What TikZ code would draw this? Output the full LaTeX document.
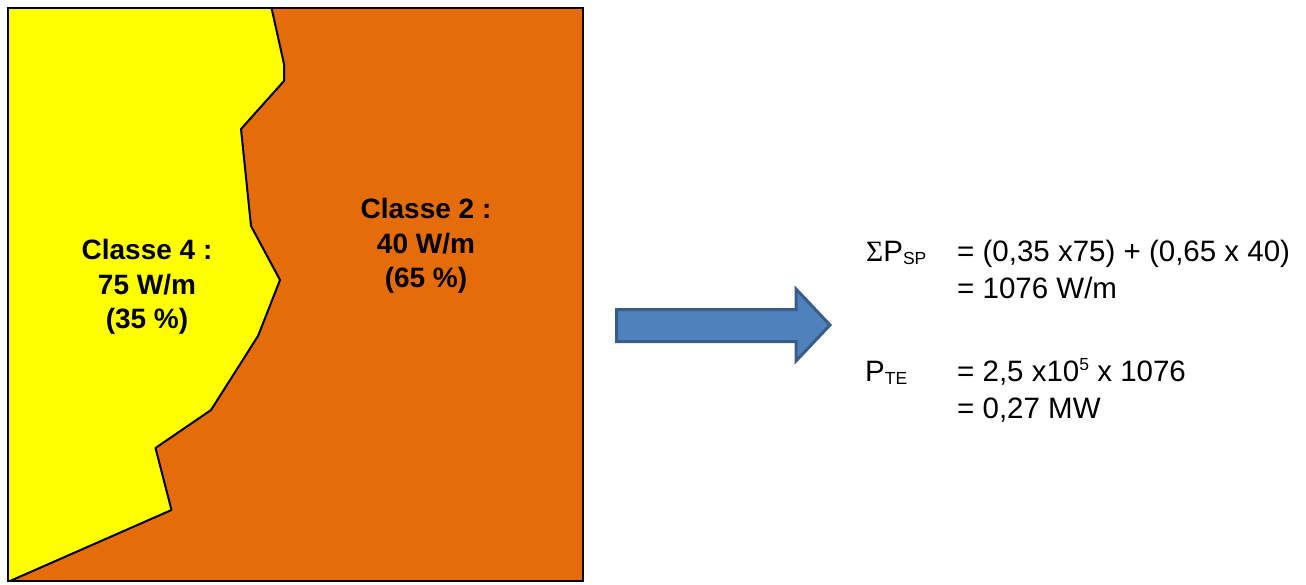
\documentclass[tikz,border=0pt]{standalone}
\usepackage{fontspec}
\setmainfont{Liberation Sans}
\newfontfamily\sigmafont{Liberation Serif}
\usetikzlibrary{calc}

\definecolor{zoneyellow}{HTML}{FFFF00}
\definecolor{zoneorange}{HTML}{E46C0A}
\definecolor{arrowfill}{HTML}{4F81BD}
\definecolor{arrowline}{HTML}{385D8A}

\newcommand{\subsm}[1]{\raisebox{-3pt}{\fontsize{17.5}{17.5}\selectfont #1}}
\newcommand{\supsm}[1]{\raisebox{11pt}{\fontsize{17.5}{17.5}\selectfont #1}}

\begin{document}
\begin{tikzpicture}[x=1pt,y=-1pt,
    zonelabel/.style={align=center,font=\fontsize{28}{34.5}\selectfont\bfseries},
    eqtext/.style={anchor=base west,inner sep=0pt,font=\fontsize{29.5}{35}\selectfont}]
\useasboundingbox (0,0) rectangle (1306,584);

% the two zones
\fill[zoneorange] (8,8) rectangle (583,581);
\fill[zoneyellow] (8,8) -- (271.5,8) -- (284,64) -- (284,81) -- (241,129) -- (251,226)
    -- (280,280) -- (258,336) -- (211,410) -- (155.5,448) -- (171.5,510) -- (8,581) -- cycle;
\draw[line width=2pt,line join=round] (271.5,8) -- (284,64) -- (284,81) -- (241,129) -- (251,226)
    -- (280,280) -- (258,336) -- (211,410) -- (155.5,448) -- (171.5,510) -- (10,581);
\draw[line width=2pt] (8,8) rectangle (583,581);

\node[zonelabel] (class4) at (147,287) {Classe 4 :\\75 W/m\\(35 \%)};
\node[zonelabel] (class2) at (426,246) {Classe 2 :\\40 W/m\\(65 \%)};

% arrow
\draw[line width=3pt,arrowline,fill=arrowfill,line join=miter]
    (616.5,309.5) -- (796,309.5) -- (796,289) -- (830,325) -- (796,361) -- (796,341.5)
    -- (616.5,341.5) -- cycle;

% calculation
\node[eqtext] (sumP) at (866,261.5) {{\sigmafont Σ}P\subsm{SP}};
\node[eqtext] (sumA) at (957,261.5) {= (0,35 x75) + (0,65 x 40)};
\node[eqtext] (sumB) at (957,298) {= 1076 W/m};
\node[eqtext] (pte) at (865,381.5) {P\subsm{TE}};
\node[eqtext] (pteA) at (957,381.5) {= 2,5 x10\supsm{5} x 1076};
\node[eqtext] (pteB) at (957,418) {= 0,27 MW};

\end{tikzpicture}
\end{document}
